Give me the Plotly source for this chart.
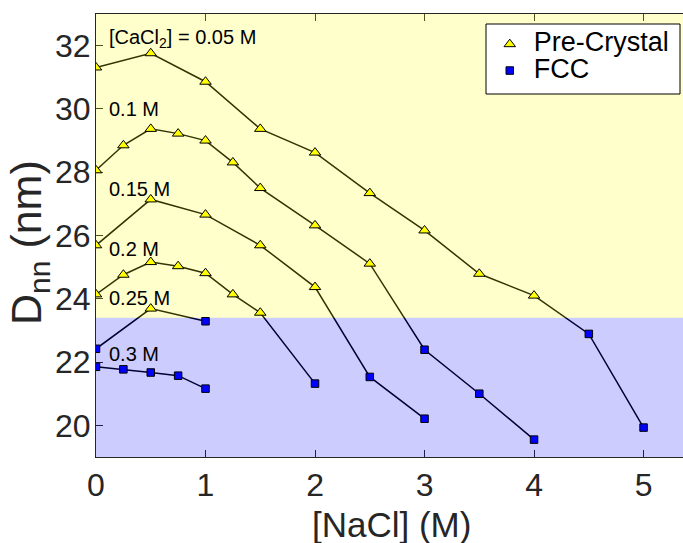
import plotly.graph_objects as go

# [NaCl] (M) and nearest-neighbour distance D_nn (nm) for each [CaCl2] series
nacl_005 = [0, 0.5, 1, 1.5, 2, 2.5, 3, 3.5, 4, 4.5, 5]
dnn_005 = [31.31, 31.76, 30.86, 29.37, 28.62, 27.34, 26.16, 24.79, 24.10, 22.89, 19.93]

nacl_01 = [0, 0.25, 0.5, 0.75, 1, 1.25, 1.5, 2, 2.5, 3, 3.5, 4]
dnn_01 = [28.06, 28.85, 29.37, 29.22, 29.00, 28.31, 27.50, 26.32, 25.11, 22.39, 21.00, 19.55]

nacl_015 = [0, 0.5, 1, 1.5, 2, 2.5, 3]
dnn_015 = [25.69, 27.14, 26.66, 25.69, 24.37, 21.53, 20.21]

nacl_02 = [0, 0.25, 0.5, 0.75, 1, 1.25, 1.5, 2]
dnn_02 = [24.14, 24.76, 25.16, 25.03, 24.81, 24.14, 23.56, 21.32]

nacl_025 = [0, 0.5, 1]
dnn_025 = [22.42, 23.69, 23.29]

nacl_03 = [0, 0.25, 0.5, 0.75, 1]
dnn_03 = [21.85, 21.77, 21.67, 21.57, 21.16]

series_labels = ["[CaCl<sub>2</sub>] = 0.05 M", "0.1 M", "0.15 M", "0.2 M", "0.25 M", "0.3 M"]

# D_nn separating the pre-crystal region (above) from FCC (below)
phase_boundary = 23.4

x_ticks = [0, 1, 2, 3, 4, 5]
y_ticks = [20, 22, 24, 26, 28, 30, 32]

X_RANGE = [0, 5.36]
Y_RANGE = [19, 33]

FONT = "Liberation Sans, Arial, Helvetica, sans-serif"
TEXT = "#262626"

series = [
    (nacl_005, dnn_005),
    (nacl_01, dnn_01),
    (nacl_015, dnn_015),
    (nacl_02, dnn_02),
    (nacl_025, dnn_025),
    (nacl_03, dnn_03),
]

fig = go.Figure()

# connecting lines (drawn first so the translucent region patches tint them)
for xs, ys in series:
    fig.add_trace(go.Scatter(
        x=xs, y=ys, mode="lines",
        line=dict(color="black", width=1.5),
        showlegend=False, hoverinfo="skip",
    ))

# translucent region patches
def region(y0, y1, color):
    fig.add_trace(go.Scatter(
        x=[X_RANGE[0], X_RANGE[1], X_RANGE[1], X_RANGE[0], X_RANGE[0]],
        y=[y0, y0, y1, y1, y0],
        mode="lines", fill="toself", fillcolor=color,
        line=dict(width=0), showlegend=False, hoverinfo="skip",
    ))

region(phase_boundary, Y_RANGE[1], "rgba(255,255,0,0.2)")
region(Y_RANGE[0], phase_boundary, "rgba(0,0,255,0.2)")

# markers split by phase
pre_x, pre_y, fcc_x, fcc_y = [], [], [], []
for xs, ys in series:
    for x, y in zip(xs, ys):
        if y > phase_boundary:
            pre_x.append(x); pre_y.append(y)
        else:
            fcc_x.append(x); fcc_y.append(y)

LEGEND_TEXT = '<span style="font-size:27px">{}</span>'

fig.add_trace(go.Scatter(
    x=pre_x, y=pre_y, mode="markers", name=LEGEND_TEXT.format("Pre-Crystal"),
    marker=dict(symbol="triangle-up", size=10, color="#FFFF00",
                line=dict(color="black", width=1)),
))
fig.add_trace(go.Scatter(
    x=fcc_x, y=fcc_y, mode="markers", name=LEGEND_TEXT.format("FCC"),
    marker=dict(symbol="square", size=7.5, color="#0000FF",
                line=dict(color="black", width=1)),
))

# series labels
label_y = [32.22, 30.0, 27.46, 25.57, 24.04, 22.27]
for text, ly in zip(series_labels, label_y):
    fig.add_annotation(
        x=0.1, y=ly, text=text, showarrow=False,
        xanchor="left", yanchor="middle",
        font=dict(family=FONT, size=20, color="black"),
    )

# axis titles
fig.add_annotation(
    xref="paper", yref="paper", x=-0.114, y=0.483,
    text="D<sub>nn</sub> (nm)", textangle=-90, showarrow=False,
    xanchor="center", yanchor="middle",
    font=dict(family=FONT, size=43, color=TEXT),
)
fig.add_annotation(
    xref="paper", yref="paper", x=0.504, y=-0.152,
    text="[NaCl] (M)", showarrow=False,
    xanchor="center", yanchor="middle",
    font=dict(family=FONT, size=35, color=TEXT),
)

# legend frame
fig.add_shape(
    type="rect", xref="paper", yref="paper",
    x0=0.6644, x1=0.9949, y0=0.8194, y1=0.9774,
    fillcolor="white", line=dict(color="black", width=1), layer="above",
)

axis_common = dict(
    showgrid=False, zeroline=False,
    showline=True, linecolor="#262626", linewidth=1,
    ticks="inside", ticklen=7, tickwidth=1, tickcolor="#262626",
    tickfont=dict(family=FONT, size=32, color=TEXT),
    layer="below traces",
)

fig.update_xaxes(range=X_RANGE, tickvals=x_ticks, mirror="ticks", **axis_common)
fig.update_yaxes(range=Y_RANGE, tickvals=y_ticks, mirror=False, ticklabelstandoff=-2, **axis_common)

fig.update_layout(
    width=683, height=543,
    margin=dict(l=96, r=0, t=14, b=86),
    paper_bgcolor="white", plot_bgcolor="white",
    font=dict(family=FONT, color=TEXT),
    legend=dict(
        x=0.664, y=0.973, xanchor="left", yanchor="top",
        bgcolor="rgba(0,0,0,0)", borderwidth=0,
        itemwidth=38,
        font=dict(family=FONT, size=18, color="black"),
    ),
)

fig.write_html("out.html")
